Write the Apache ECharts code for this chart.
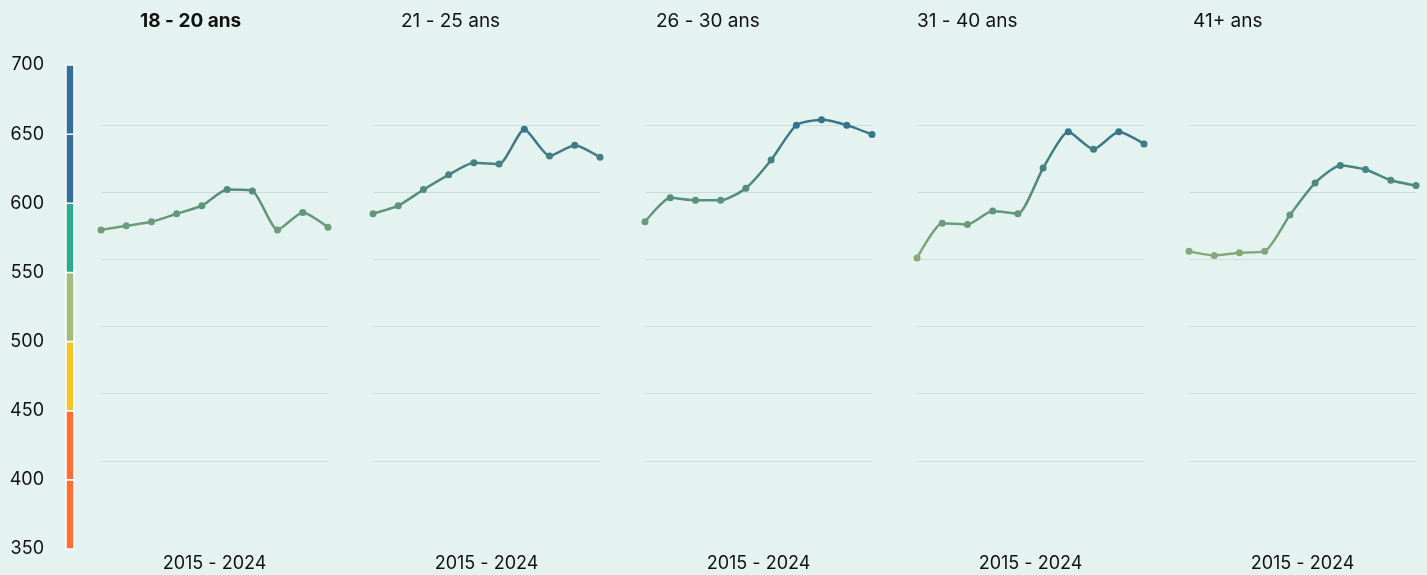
<!DOCTYPE html>
<html><head><meta charset="utf-8">
<script src="https://cdn.jsdelivr.net/npm/echarts@6/dist/echarts.min.js"></script>
<style>html,body{margin:0;padding:0;background:#e4f3ef}#c{width:1427px;height:575px}</style>
</head><body><div id="c"></div>
<script>
const years = ['2015','2016','2017','2018','2019','2020','2021','2022','2023','2024'];
const groups = ['18 - 20 ans','21 - 25 ans','26 - 30 ans','31 - 40 ans','41+ ans'];
const periodLabel = '2015 - 2024';
const s18_20 = [572, 575, 578, 584, 590, 602, 601, 572, 585, 574];
const s21_25 = [584, 590, 602, 613, 622, 621, 647, 627, 635, 626];
const s26_30 = [578, 596, 594, 594, 603, 624, 650, 654, 650, 643];
const s31_40 = [551, 577, 576, 586, 584, 618, 645, 632, 645, 636];
const s41p   = [556, 553, 555, 556, 583, 607, 620, 617, 609, 605];
const scaleTicks = [350, 400, 450, 500, 550, 600, 650, 700];
const bandLow  = [350, 400, 450, 500, 550, 600, 650];
const bandHigh = [400, 450, 500, 550, 600, 650, 700];

const seriesData = [s18_20, s21_25, s26_30, s31_40, s41p];
const bandColors = ['#fe6f35','#fe6f35','#f3c72c','#a3bb7e','#2bab8f','#34709a','#34709a'];
const FONT = 'Inter, "Noto Sans", sans-serif';
const TXT = '#111111';

const panelLeft = [101, 373, 645, 917, 1189];
const titleLeft = [140, 401, 656, 917, 1193];

const grids = [{left: 66, width: 8, top: 65, height: 484, outerBoundsMode: 'none'}];
const xAxes = [{gridIndex: 0, type: 'category', data: ['scale'], show: false}];
const yAxes = [{
  gridIndex: 0, type: 'value', min: scaleTicks[0], max: scaleTicks[scaleTicks.length-1], interval: 50,
  axisLine: {show: false}, axisTick: {show: false}, splitLine: {show: false},
  axisLabel: {fontSize: 18, color: TXT, fontFamily: FONT, margin: 22}
}];
const series = [{
  type: 'custom', xAxisIndex: 0, yAxisIndex: 0, clip: false,
  data: bandLow.map((l, i) => [0, l, bandHigh[i]]),
  encode: {x: 0, y: [1, 2]},
  renderItem: function (params, api) {
    const lo = api.coord([0, api.value(1)]);
    const hi = api.coord([0, api.value(2)]);
    return {type: 'rect', shape: {x: lo[0] - 4, y: hi[1], width: 8, height: lo[1] - hi[1]},
      style: {fill: bandColors[params.dataIndex], stroke: '#ffffff', lineWidth: 1.5}};
  }
}];
const titles = [];

groups.forEach((g, i) => {
  grids.push({left: panelLeft[i], width: 227, top: 58, height: 470, outerBoundsMode: 'none'});
  xAxes.push({
    gridIndex: i + 1, type: 'category', data: years, boundaryGap: false,
    axisLine: {show: false}, axisTick: {show: false}, axisLabel: {show: false},
    name: periodLabel, nameLocation: 'middle', nameGap: 27,
    nameTextStyle: {fontSize: 18, color: TXT, fontFamily: FONT}
  });
  yAxes.push({
    gridIndex: i + 1, type: 'value', min: 350, max: 700, interval: 50,
    axisLine: {show: false}, axisTick: {show: false}, axisLabel: {show: false},
    splitLine: {show: true, showMinLine: false, showMaxLine: false, lineStyle: {color: '#cdddd9', width: 1}}
  });
  series.push({
    type: 'line', xAxisIndex: i + 1, yAxisIndex: i + 1, data: seriesData[i],
    smooth: 0.2, symbol: 'circle', symbolSize: 7, lineStyle: {width: 2.5}
  });
  titles.push({
    text: g, left: titleLeft[i], top: 12, padding: 0,
    textStyle: {fontSize: 19, fontWeight: i === 0 ? 'bold' : 'normal', color: TXT, fontFamily: FONT}
  });
});

const chart = echarts.init(document.getElementById('c'));
chart.setOption({
  backgroundColor: '#e4f3ef',
  animation: false,
  title: titles,
  grid: grids,
  xAxis: xAxes,
  yAxis: yAxes,
  visualMap: {
    type: 'continuous', show: false, min: 550, max: 650, dimension: 1,
    seriesIndex: [1, 2, 3, 4, 5],
    inRange: {color: ['#88ab77', '#528c7c', '#35738a']}
  },
  series: series
});
</script></body></html>
